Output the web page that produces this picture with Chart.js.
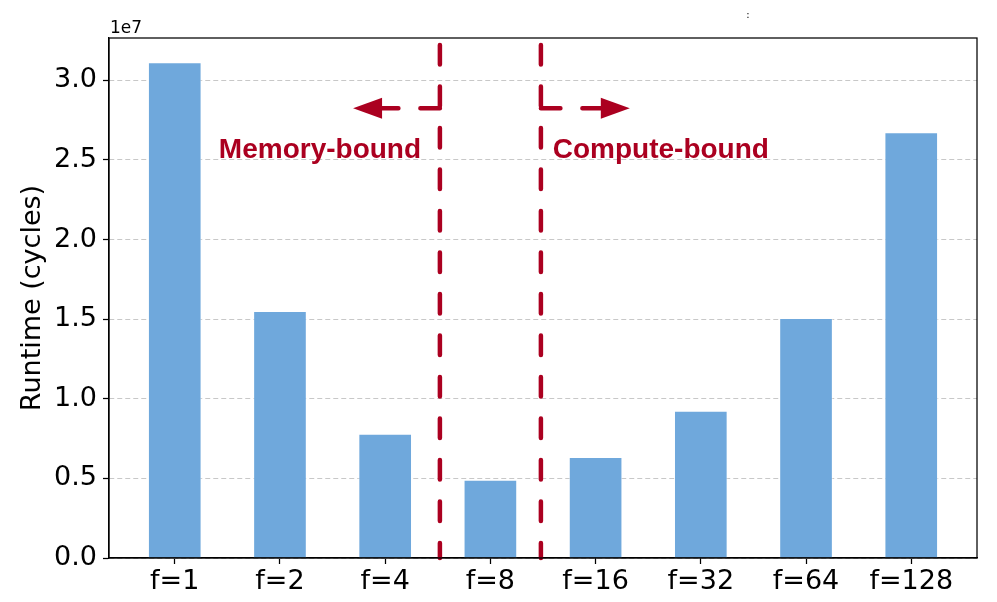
<!DOCTYPE html>
<html>
<head>
<meta charset="utf-8">
<script src="https://cdn.jsdelivr.net/npm/chart.js@4.4.1/dist/chart.umd.min.js"></script>
<style>
  html, body { margin: 0; padding: 0; background: #fff; }
  #wrap { width: 997px; height: 602px; position: relative; }
</style>
</head>
<body>
<div id="wrap"><canvas id="runtimeChart"></canvas></div>
<script>
// bars
const categories = ['f=1', 'f=2', 'f=4', 'f=8', 'f=16', 'f=32', 'f=64', 'f=128'];
const runtimeCycles = [3.111e7, 1.550e7, 0.778e7, 0.489e7, 0.632e7, 0.923e7, 1.506e7, 2.672e7];
const yTickValues = [0, 0.5e7, 1.0e7, 1.5e7, 2.0e7, 2.5e7, 3.0e7];

// regions (data units)
const boundaryX = [2.52, 3.48];
const arrowY = 2.825e7;
const arrowTipX = [1.695, 4.325];
const regionLabels = ['Memory-bound', 'Compute-bound'];
const regionLabelX = [1.38, 4.62];
const regionLabelY = 2.51e7;

const CRIMSON = '#ab0020';
const BAR_BLUE = '#6fa8dc';

const overlayPlugin = {
  id: 'overlay',
  afterDatasetsDraw(chart) {
    const { ctx, chartArea: a, scales: { x, y } } = chart;
    ctx.save();

    // dashed boundaries
    ctx.strokeStyle = CRIMSON;
    ctx.lineWidth = 4.5;
    ctx.lineCap = 'round';
    ctx.setLineDash([19.5, 22]);
    boundaryX.forEach(bx => {
      const px = x.getPixelForValue(bx);
      ctx.beginPath();
      ctx.moveTo(px, a.top + 7);
      ctx.lineTo(px, a.bottom);
      ctx.stroke();
    });

    // arrows
    const ay = y.getPixelForValue(arrowY);
    boundaryX.forEach((bx, i) => {
      const px = x.getPixelForValue(bx);
      const tip = x.getPixelForValue(arrowTipX[i]);
      const dir = tip < px ? -1 : 1;
      const base = tip - dir * 29;
      ctx.setLineDash([19.5, 22]);
      ctx.beginPath();
      ctx.moveTo(px, ay);
      ctx.lineTo(base, ay);
      ctx.stroke();
      ctx.setLineDash([]);
      ctx.fillStyle = CRIMSON;
      ctx.beginPath();
      ctx.moveTo(tip, ay);
      ctx.lineTo(base, ay - 10.5);
      ctx.lineTo(base, ay + 10.5);
      ctx.closePath();
      ctx.fill();
    });

    // region labels
    ctx.font = 'bold 28px "Liberation Sans", Arial, sans-serif';
    ctx.textAlign = 'center';
    ctx.textBaseline = 'alphabetic';
    regionLabels.forEach((t, i) => {
      ctx.fillText(t, x.getPixelForValue(regionLabelX[i]), y.getPixelForValue(regionLabelY));
    });

    // frame
    ctx.setLineDash([]);
    ctx.strokeStyle = '#000';
    ctx.lineWidth = 1.25;
    ctx.strokeRect(a.left, a.top, a.right - a.left, a.bottom - a.top);

    // offset text
    ctx.fillStyle = '#000';
    ctx.font = '17px "DejaVu Sans", sans-serif';
    ctx.textAlign = 'left';
    ctx.fillText('1e7', a.left + 1, a.top - 5);
    ctx.font = '10px "DejaVu Sans", sans-serif';
    ctx.textAlign = 'center';
    ctx.fillText(':', 748, 18);
    ctx.restore();
  }
};

Chart.defaults.font.family = '"DejaVu Sans", sans-serif';
Chart.defaults.color = '#000';

new Chart(document.getElementById('runtimeChart'), {
  type: 'bar',
  data: {
    datasets: [{
      data: runtimeCycles.map((v, i) => ({ x: i, y: v })),
      backgroundColor: BAR_BLUE,
      borderColor: 'rgba(255,255,255,0.45)',
      borderWidth: 1,
      barThickness: 53
    }]
  },
  options: {
    responsive: true,
    maintainAspectRatio: false,
    animation: false,
    layout: { padding: { top: 38, right: 20, left: 0, bottom: 0 } },
    plugins: { legend: { display: false }, tooltip: { enabled: false } },
    scales: {
      x: {
        type: 'linear',
        offset: false,
        min: -0.625,
        max: 7.625,
        afterBuildTicks: s => { s.ticks = categories.map((_, i) => ({ value: i })); },
        afterFit: s => { s.height = 44; },
        ticks: { callback: v => categories[v], font: { size: 27 }, padding: 2, maxRotation: 0, autoSkip: false },
        grid: { offset: false, drawOnChartArea: false, tickLength: 6, tickColor: '#000', tickWidth: 1.25 },
        border: { color: '#000', width: 1.25 }
      },
      y: {
        min: 0,
        max: 3.266e7,
        afterBuildTicks: s => { s.ticks = yTickValues.map(v => ({ value: v })); },
        afterFit: s => { s.width = 109; },
        ticks: { callback: v => (v / 1e7).toFixed(1), font: { size: 27 }, padding: 6 },
        grid: { color: '#c8c8c8', lineWidth: 1, tickLength: 6, tickColor: '#000', tickWidth: 1.25 },
        border: { color: '#000', width: 1.25, dash: [5, 3] },
        title: { display: true, text: 'Runtime (cycles)', font: { size: 27 }, padding: { top: 17, bottom: 0 } }
      }
    }
  },
  plugins: [overlayPlugin]
});
</script>
</body>
</html>
